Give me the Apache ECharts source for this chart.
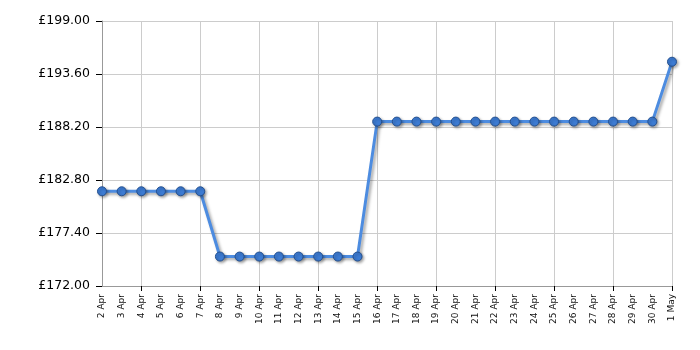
<!DOCTYPE html>
<html><head><meta charset="utf-8">
<script src="https://cdn.jsdelivr.net/npm/echarts@6/dist/echarts.min.js"></script>
<style>html,body{margin:0;padding:0;background:#fff}#c{width:700px;height:350px}</style>
</head><body><div id="c"></div>
<script>
var categories = ['2 Apr','3 Apr','4 Apr','5 Apr','6 Apr','7 Apr','8 Apr','9 Apr','10 Apr','11 Apr','12 Apr','13 Apr','14 Apr','15 Apr','16 Apr','17 Apr','18 Apr','19 Apr','20 Apr','21 Apr','22 Apr','23 Apr','24 Apr','25 Apr','26 Apr','27 Apr','28 Apr','29 Apr','30 Apr','1 May'];
var prices = [181.65,181.65,181.65,181.65,181.65,181.65,175.0,175.0,175.0,175.0,175.0,175.0,175.0,175.0,188.75,188.75,188.75,188.75,188.75,188.75,188.75,188.75,188.75,188.75,188.75,188.75,188.75,188.75,188.75,194.85];
var yMin = 172, yMax = 199, yStep = 5.4;

var chart = echarts.init(document.getElementById('c'), null, {renderer:'canvas'});
var gridIdx = function(i){ return i % 3 === 2; };
chart.setOption({
  animation:false,
  grid:{left:102,right:28,top:21,bottom:64,containLabel:false},
  xAxis:{
    type:'category', data:categories, boundaryGap:false,
    axisLine:{lineStyle:{color:'#999',width:1}},
    axisTick:{show:true,interval:gridIdx,length:5,lineStyle:{color:'#000'}},
    axisLabel:{interval:0,rotate:90,fontFamily:'DejaVu Sans',fontSize:9,color:'#111',margin:8},
    splitLine:{show:true,interval:gridIdx,lineStyle:{color:'#ccc',width:1}}
  },
  yAxis:{
    type:'value', min:0, max:yMax-yMin, interval:yStep,
    axisLine:{show:true,lineStyle:{color:'#999',width:1}},
    axisTick:{show:true,length:6,lineStyle:{color:'#000'}},
    axisLabel:{fontFamily:'DejaVu Sans',fontSize:12.5,color:'#000',margin:12,
      formatter:function(v){return '£'+(v+yMin).toFixed(2);}},
    splitLine:{show:true,lineStyle:{color:'#ccc',width:1}}
  },
  series:[{
    type:'line', data:prices.map(function(p){return +(p-yMin).toFixed(4);}),
    symbol:'circle', symbolSize:9,
    lineStyle:{color:'#4d8ce0',width:3,shadowColor:'rgba(0,0,0,0.35)',shadowBlur:3,shadowOffsetX:2,shadowOffsetY:2},
    itemStyle:{color:'#3d7cd4',borderColor:'#24508f',borderWidth:1,shadowColor:'rgba(0,0,0,0.35)',shadowBlur:3,shadowOffsetX:1.5,shadowOffsetY:1.5}
  }]
});
</script></body></html>
